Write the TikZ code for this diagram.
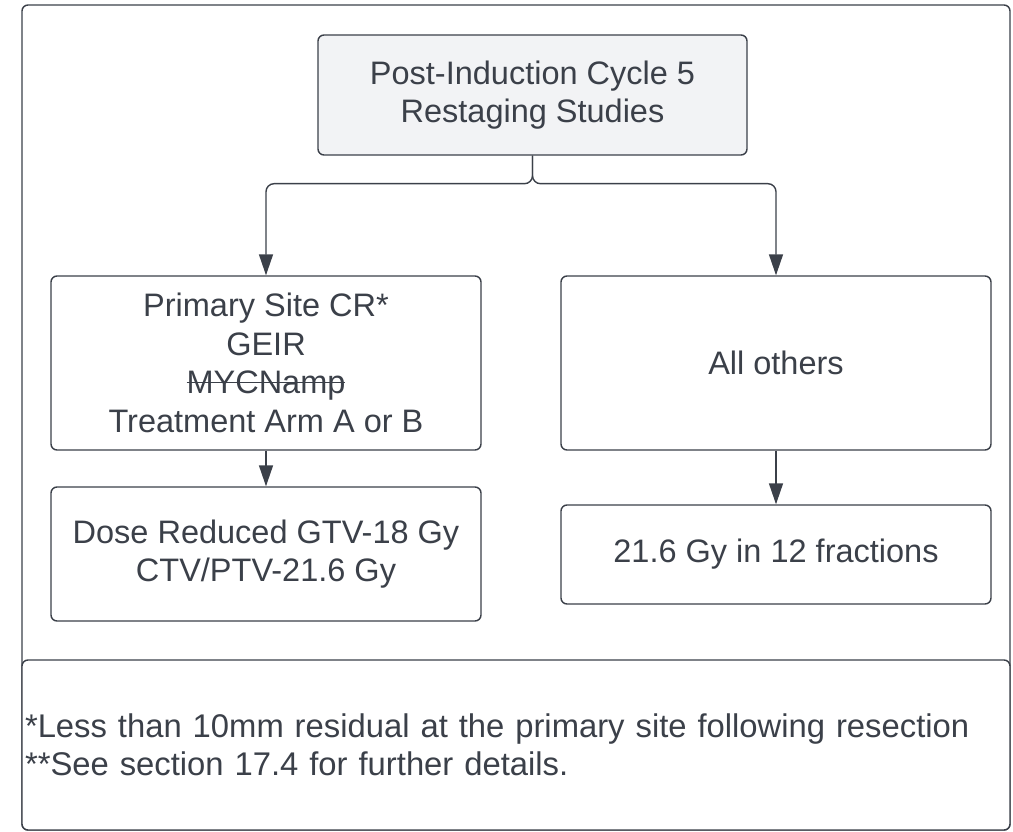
\documentclass[tikz,border=0pt]{standalone}
\usepackage{fontspec}
\setmainfont{Liberation Sans}
\usetikzlibrary{arrows.meta}
\definecolor{ink}{HTML}{3B4049}
\definecolor{boxgray}{HTML}{F2F3F5}
\newsavebox\strkbox
\newcommand{\strk}[1]{\sbox\strkbox{#1}\rlap{\raisebox{0.33em}{\rule{\wd\strkbox}{1.5pt}}}\usebox\strkbox}
\tikzset{
	stepbox/.style={draw=ink, line width=1.4pt, rounded corners=6pt, align=center, text=ink, inner sep=0pt},
	arr/.style={draw=ink, line width=1.4pt, -{Triangle[length=21pt,width=14pt]}}
}

\begin{document}
\begin{tikzpicture}[x=1pt, y=-1pt, font=\fontsize{32.5}{38.5}\selectfont]
		\useasboundingbox (0,0) rectangle (1013,832);
		\draw[ink, line width=1.4pt, rounded corners=6pt] (22,5) rectangle (1010,830);
		\node[stepbox, fill=boxgray, minimum width=429pt, minimum height=120pt] (restage) at (532.5,95) {Post-Induction Cycle 5\\Restaging Studies};
		\node[stepbox, fill=white, minimum width=430pt, minimum height=174pt] (primcr) at (266,363) {Primary Site CR*\\GEIR\\\strk{MYCNamp}\\Treatment Arm A or B};
		\node[stepbox, fill=white, minimum width=430pt, minimum height=174pt] (others) at (776,363) {All others};
		\node[stepbox, fill=white, minimum width=430pt, minimum height=134pt] (reduced) at (266,554) {Dose Reduced GTV-18 Gy\\CTV/PTV-21.6 Gy};
		\node[stepbox, fill=white, minimum width=430pt, minimum height=99pt] (fractions) at (776,554.5) {21.6 Gy in 12 fractions};
		\node[stepbox, fill=white, minimum width=988pt, minimum height=170pt, align=left, text width=982pt, font=\fontsize{32.8}{38.5}\selectfont] (notes) at (516,745) {*Less than 10mm residual at the primary site following resection\\{}**See section 17.4 for further details.};
		\draw[arr, rounded corners=8pt] (restage.south) -- ++(0,28) -| (primcr.north);
		\draw[arr, rounded corners=8pt] (restage.south) -- ++(0,28) -| (others.north);
		\draw[arr] (primcr) -- (reduced);
		\draw[arr] (others) -- (fractions);
	\end{tikzpicture}
\end{document}
